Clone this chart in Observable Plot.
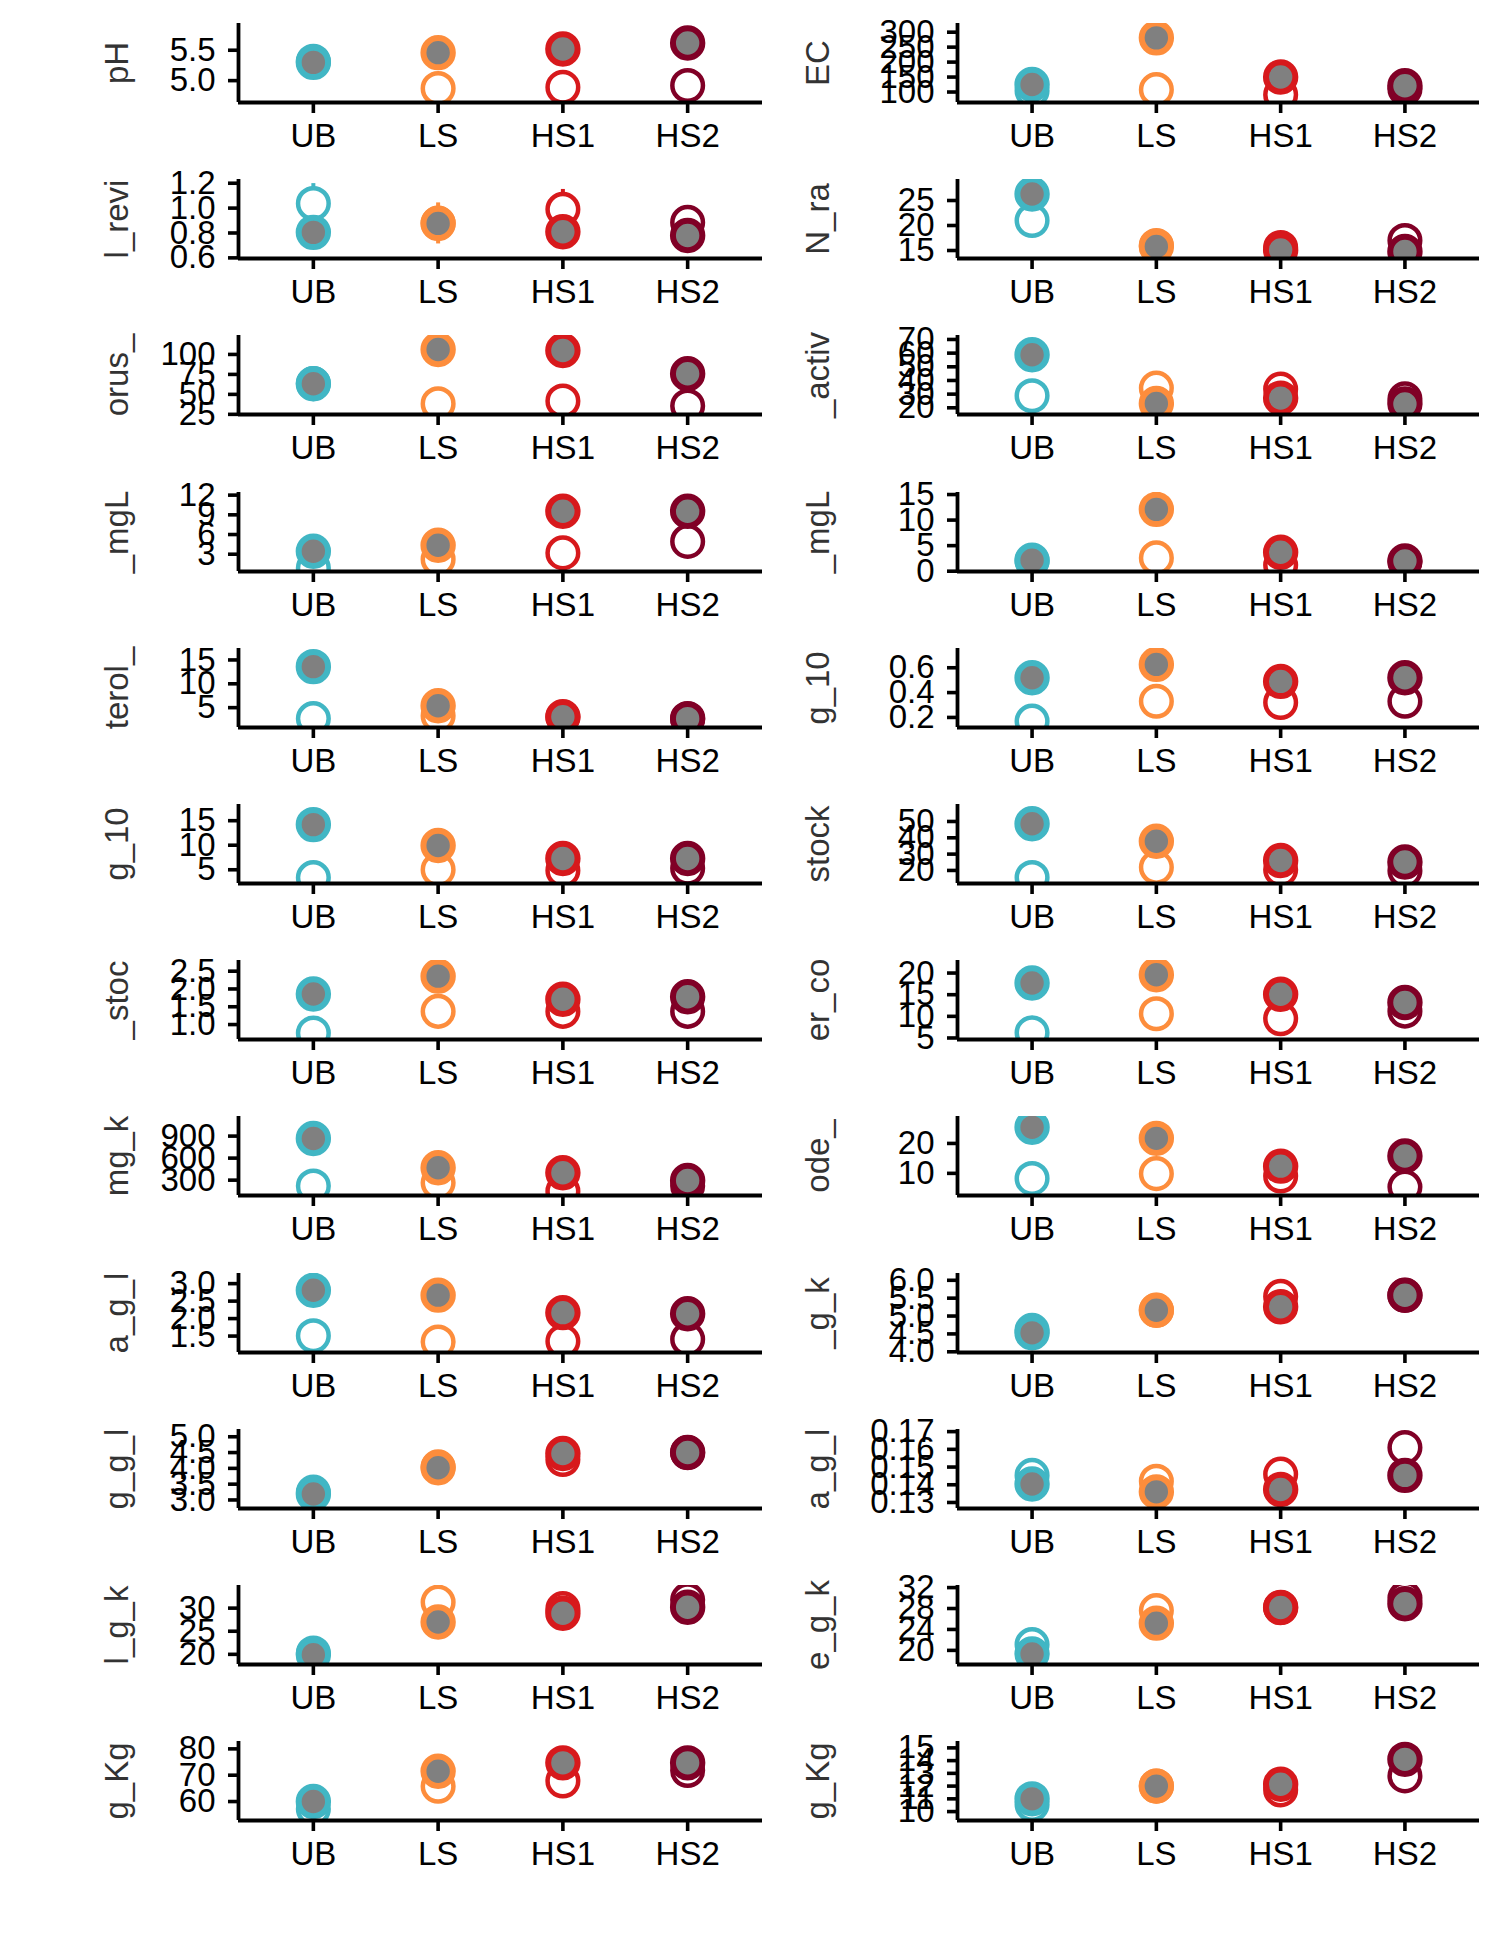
<!DOCTYPE html>
<html>
<head>
<meta charset="utf-8">
<script src="https://cdn.jsdelivr.net/npm/d3@7"></script>
<script src="https://cdn.jsdelivr.net/npm/@observablehq/plot@0.6"></script>
<style>
  body { margin: 0; background: #ffffff; }
  #chart { position: relative; width: 1500px; height: 1950px; background: #ffffff; overflow: hidden; }
  #chart svg { position: absolute; }
</style>
</head>
<body>
<div id="chart"></div>
<script>
// ---------- data (panels in row-major order: left, right) ----------
const groups = ["UB", "LS", "HS1", "HS2"];
const groupColors = ["#41B6C4", "#FD8D3C", "#D7191C", "#800026"];

const panelTitles = [
  "pH", "EC",
  "l_revi", "N_ra",
  "orus_", "_activ",
  "_mgL", "_mgL",
  "terol_", "g_10",
  "g_10", "stock",
  "_stoc", "er_co",
  "mg_k", "ode_",
  "a_g_l", "_g_k",
  "g_g_l", "a_g_l",
  "l_g_k", "e_g_k",
  "g_Kg", "g_Kg"
];

// open circles (hollow)
const openValues = [
  [5.32, 4.87, 4.89, 4.92], [104, 108, 91, 110],
  [1.037, 0.88, 0.99, 0.885], [21.0, 16.0, 15.6, 17.0],
  [63.5, 38.3, 41.7, 35.4], [28.8, 34.4, 33.7, 26.5],
  [0.9, 2.25, 3.2, 4.95], [2.0, 2.6, 1.2, 1.8],
  [2.7, 3.3, 3.0, 2.6], [0.17, 0.33, 0.32, 0.33],
  [3.4, 5.0, 4.85, 5.3], [15.7, 21.9, 20.4, 19.8],
  [0.76, 1.37, 1.37, 1.37], [6.2, 10.6, 9.45, 11.2],
  [220, 264, 150, 220], [8.3, 9.9, 9.1, 5.4],
  [1.51, 1.33, 1.35, 1.41], [4.6, 5.16, 5.55, 5.58],
  [3.25, 4.05, 4.28, 4.5], [0.1453, 0.142, 0.146, 0.161],
  [20.3, 31.3, 29.9, 31.8], [21.1, 27.6, 28.2, 30.0],
  [57.2, 65.8, 67.8, 71.8], [10.55, 12.0, 11.7, 12.8]
];

// filled circles (grey centre)
const filledValues = [
  [5.30, 5.46, 5.52, 5.62], [125, 281, 150, 121],
  [0.805, 0.877, 0.81, 0.78], [26.3, 15.8, 15.1, 14.8],
  [63.3, 106.2, 105, 75.8], [58.8, 23.2, 27.1, 22.8],
  [3.45, 4.36, 9.55, 9.55], [2.15, 12.1, 3.7, 2.0],
  [13.6, 5.4, 3.1, 2.7], [0.52, 0.627, 0.49, 0.52],
  [14.2, 9.95, 7.3, 7.3], [48.6, 37.9, 26.1, 25.2],
  [1.86, 2.36, 1.71, 1.78], [17.7, 19.6, 15.1, 13.2],
  [868, 468, 400, 295], [25.4, 21.7, 12.4, 15.8],
  [2.81, 2.67, 2.17, 2.14], [4.53, 5.16, 5.26, 5.58],
  [3.19, 4.02, 4.47, 4.5], [0.1404, 0.136, 0.1373, 0.1453],
  [19.9, 27.0, 28.9, 30.2], [19.3, 25.2, 28.2, 28.9],
  [60, 71.5, 74.7, 74.7], [11.0, 12.0, 12.15, 14.1]
];

const yDomains = [
  [4.64, 5.94], [65, 329],
  [0.595, 1.23], [13.4, 29.2],
  [24.8, 123.7], [15.1, 72.9],
  [0.37, 12.4], [-0.06, 15.4],
  [0.84, 17.4], [0.119, 0.755],
  [2.2, 18.3], [12, 60.4],
  [0.58, 2.80], [4.65, 22.9],
  [91, 1167], [2.6, 29.0],
  [1.03, 3.29], [3.98, 6.19],
  [2.73, 5.23], [0.1266, 0.1712],
  [17.8, 34.9], [17.3, 32.4],
  [52.8, 82.8], [9.3, 15.5]
];

const yTickValues = [
  [5.0, 5.5], [100, 150, 200, 250, 300],
  [0.6, 0.8, 1.0, 1.2], [15, 20, 25],
  [25, 50, 75, 100], [20, 30, 40, 50, 60, 70],
  [3, 6, 9, 12], [0, 5, 10, 15],
  [5, 10, 15], [0.2, 0.4, 0.6],
  [5, 10, 15], [20, 30, 40, 50],
  [1.0, 1.5, 2.0, 2.5], [5, 10, 15, 20],
  [300, 600, 900], [10, 20],
  [1.5, 2.0, 2.5, 3.0], [4.0, 4.5, 5.0, 5.5, 6.0],
  [3.0, 3.5, 4.0, 4.5, 5.0], [0.13, 0.14, 0.15, 0.16, 0.17],
  [20, 25, 30], [20, 24, 28, 32],
  [60, 70, 80], [10, 11, 12, 13, 14, 15]
];

const yTickDecimals = [
  1, 0, 1, 0, 0, 0, 0, 0, 0, 1, 0, 0,
  1, 0, 0, 0, 1, 1, 1, 2, 0, 0, 0, 0
];

// visible error bars (half-length)
const errPanel  = [2, 2, 2, 18];
const errGroup  = ["UB", "LS", "HS1", "HS1"];
const errSeries = ["open", "filled", "open", "filled"];
const errSize   = [0.16, 0.165, 0.16, 0.53];

// ---------- layout ----------
const ROW_STEP = 156.2, SVG_H = 160, PLOT_TOP = 23, PLOT_H = 79;
const columns = [
  {left: 0,   width: 780, x0: 238, x1: 762,  titleX: 117},
  {left: 750, width: 750, x0: 957, x1: 1479, titleX: 818}
];
const FONT = "'Liberation Sans', Arial, Helvetica, sans-serif";
const chart = document.getElementById("chart");

panelTitles.forEach((title, i) => {
  const col = columns[i % 2];
  const row = Math.floor(i / 2);
  const dom = yDomains[i];
  const fmt = d3.format(`.${yTickDecimals[i]}f`);

  const pts = groups.map((g, j) => ({
    x: j + 1, g, open: openValues[i][j], filled: filledValues[i][j]
  }));

  const errs = [];
  errPanel.forEach((p, k) => {
    if (p !== i) return;
    const j = groups.indexOf(errGroup[k]);
    const v = (errSeries[k] === "open" ? openValues : filledValues)[i][j];
    errs.push({x: j + 1, g: errGroup[k], y1: v - errSize[k], y2: v + errSize[k]});
  });

  const svg = Plot.plot({
    width: col.width,
    height: SVG_H,
    marginLeft: col.x0 - col.left,
    marginRight: col.left + col.width - col.x1,
    marginTop: PLOT_TOP,
    marginBottom: SVG_H - PLOT_TOP - PLOT_H,
    x: {domain: [0.4, 4.6], axis: null},
    y: {domain: dom, axis: null},
    color: {domain: groups, range: groupColors},
    style: {
      fontFamily: FONT, fontSize: "33px", color: "#000000",
      background: "transparent", overflow: "visible"
    },
    marks: [
      Plot.axisY({
        ticks: yTickValues[i], tickFormat: fmt, tickSize: 10, tickPadding: 13,
        strokeWidth: 3.6, label: null, fontSize: 33
      }),
      Plot.axisX({
        ticks: [1, 2, 3, 4], tickFormat: v => groups[v - 1], tickSize: 11,
        tickPadding: 10, strokeWidth: 3.6, label: null, fontSize: 33
      }),
      Plot.ruleX(errs, {x: "x", y1: "y1", y2: "y2", stroke: "g", strokeWidth: 4, clip: true}),
      Plot.dot(pts, {x: "x", y: "open", r: 15.3, stroke: "g", strokeWidth: 4.5, fill: "white", clip: true}),
      Plot.dot(pts, {x: "x", y: "filled", r: 14.7, stroke: "g", strokeWidth: 6, fill: "#808080", clip: true}),
      Plot.ruleX([0.4], {stroke: "#000", strokeWidth: 3.8}),
      Plot.ruleY([dom[0]], {stroke: "#000", strokeWidth: 3.8}),
      Plot.text([title], {
        text: d => d, frameAnchor: "left", dx: col.titleX - col.x0, rotate: -90,
        textAnchor: "middle", fill: "#333333", fontSize: 33
      })
    ]
  });
  svg.style.left = col.left + "px";
  svg.style.top = (row * ROW_STEP) + "px";
  chart.appendChild(svg);
});
</script>
</body>
</html>
